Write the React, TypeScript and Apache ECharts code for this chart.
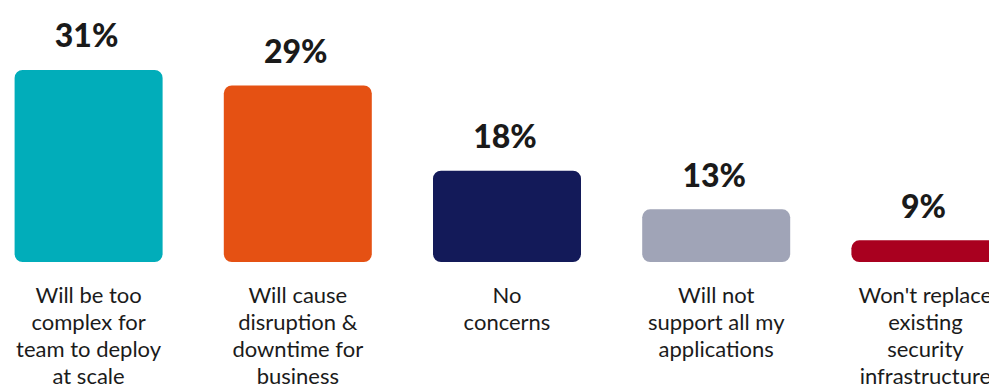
import React, { useEffect, useRef } from "react";
import * as echarts from "echarts";

const categories = [
  "Will be too\ncomplex for\nteam to deploy\nat scale",
  "Will cause\ndisruption &\ndowntime for\nbusiness",
  "No\nconcerns",
  "Will not\nsupport all my\napplications",
  "Won't replace\nexisting\nsecurity\ninfrastructure",
];
const values = [31, 29, 18, 13, 9];
const barColors = ["#01ADBA", "#E55113", "#131A59", "#A0A4B7", "#A9001F"];

const Y_MIN = 6.2;
const Y_MAX = 35;

export default function App() {
  const ref = useRef<HTMLDivElement>(null);
  useEffect(() => {
    document.body.style.margin = "0";
    document.body.style.overflow = "hidden";
    if (!ref.current) return;
    const chart = echarts.init(ref.current, undefined, { renderer: "svg" });
    chart.setOption({
      animation: false,
      backgroundColor: "#ffffff",
      grid: { left: 0, right: 0, top: 39, bottom: 122, containLabel: false, outerBoundsMode: "none" },
      xAxis: {
        type: "category",
        data: categories,
        axisLine: { show: false },
        axisTick: { show: false },
        axisLabel: {
          interval: 0,
          margin: 19,
          fontFamily: "Lato",
          fontSize: 22,
          lineHeight: 27,
          color: "#1b1b1b",
          align: "center",
        },
      },
      yAxis: {
        type: "value",
        min: Y_MIN,
        max: Y_MAX,
        show: false,
        splitLine: { show: false },
      },
      series: [
        {
          type: "custom",
          data: values.map((v, i) => [i, v]),
          renderItem: (params: any, api: any) => {
            const idx = params.dataIndex;
            const xi = api.value(0);
            const v = api.value(1);
            const top = api.coord([xi, v]);
            const base = api.coord([xi, Y_MIN]);
            const bw = 148;
            return {
              type: "group",
              children: [
                {
                  type: "rect",
                  shape: {
                    x: top[0] - bw / 2,
                    y: top[1],
                    width: bw,
                    height: base[1] - top[1],
                    r: 8,
                  },
                  style: { fill: barColors[idx] },
                },
                {
                  type: "text",
                  style: {
                    text: v + "%",
                    x: top[0] - 2,
                    y: top[1] - 19,
                    align: "center",
                    verticalAlign: "bottom",
                    fontFamily: "Lato",
                    fontWeight: 900,
                    fontSize: 32,
                    fill: "#1a1a1a",
                  },
                },
              ],
            };
          },
        },
      ],
    });
    return () => chart.dispose();
  }, []);
  return (
    <div style={{ position: "relative", width: 989, height: 384, overflow: "hidden" }}>
      <div ref={ref} style={{ position: "absolute", left: -16, top: 0, width: 1046, height: 384 }} />
    </div>
  );
}
